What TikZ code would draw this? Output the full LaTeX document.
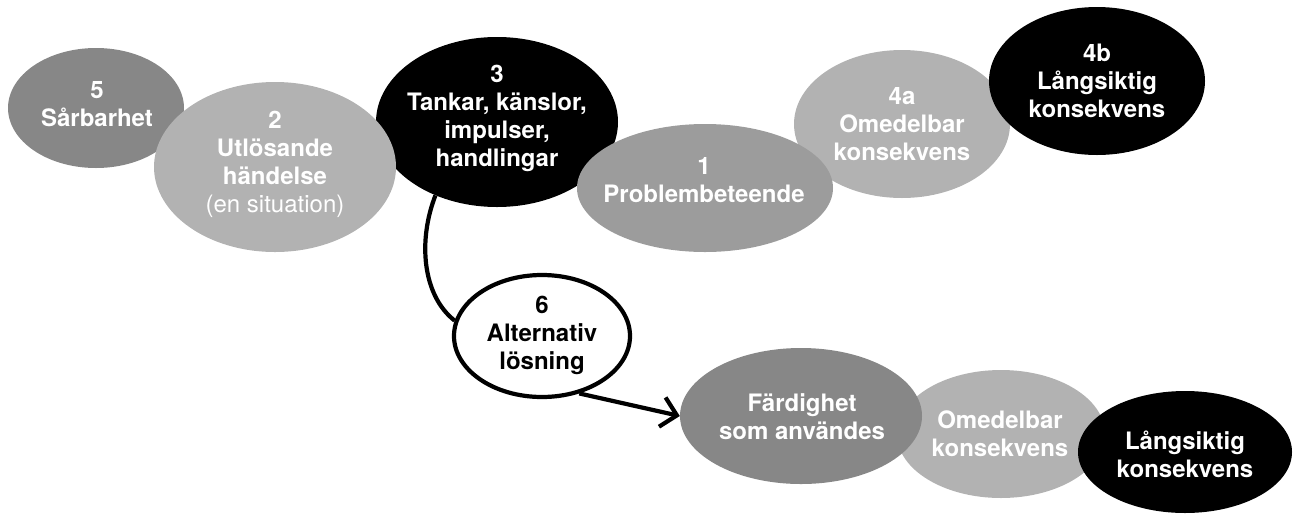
\documentclass[tikz,border=0pt]{standalone}
\usepackage{fontspec}
\setmainfont{TeX Gyre Heros}
\usetikzlibrary{shapes.geometric,arrows.meta}
\definecolor{gdark}{gray}{0.53}
\definecolor{gmid}{gray}{0.61}
\definecolor{glight}{gray}{0.70}
\begin{document}
\begin{tikzpicture}[x=1pt,y=-1pt,
  blob/.style n args={3}{ellipse, inner sep=0pt, fill=#1, minimum width=#2, minimum height=#3},
  txt/.style={align=center, inner sep=0pt, text=white, font=\bfseries\fontsize{24pt}{28pt}\selectfont},
  conn/.style={line width=4.2pt, black},
  arr/.style={conn, -{Straight Barb[length=15pt,width=30pt]}}]
\useasboundingbox (0,0) rectangle (1293,515);
% top row
\node[blob={gdark}{176pt}{120pt}] (e5) at (96,108) {};
\node[blob={black}{242pt}{170pt}] (e3) at (497,122) {};
\node[blob={glight}{242pt}{170pt}] (e2) at (275,167) {};
\node[blob={glight}{216pt}{148pt}] (e4a) at (902,124) {};
\node[blob={black}{216pt}{148pt}] (e4b) at (1097,81) {};
\node[blob={gmid}{256pt}{128pt}] (e1) at (705,188) {};
% alternative
\node[blob={white}{176pt}{122pt}, draw=black, line width=4.2pt] (e6) at (542,336) {};
\draw[conn] (e3.230) .. controls (418,240) and (422,295) .. (e6.170);
% bottom row
\node[blob={glight}{208pt}{128pt}] (eO) at (1001,434) {};
\node[blob={gdark}{242pt}{136pt}] (eF) at (801,416) {};
\node[blob={black}{214pt}{122pt}] (eL) at (1185,452) {};
\draw[arr] (e6.303) -- (eF.west);
% texts
\node[txt] (t5) at (97,104.5) {5\\Sårbarhet};
\node[txt] (t2) at (275,164) {2\\Utlösande\\händelse\\{\mdseries(en situation)}};
\node[txt] (t3) at (497,118.5) {3\\Tankar, känslor,\\impulser,\\handlingar};
\node[txt] (t1) at (704,180.5) {1\\Problembeteende};
\node[txt] (t4a) at (902,123.7) {4a\\Omedelbar\\konsekvens};
\node[txt] (t4b) at (1097,81) {4b\\Långsiktig\\konsekvens};
\node[txt, text=black] (t6) at (542,335) {6\\Alternativ\\lösning};
\node[txt] (tF) at (802,417) {Färdighet\\som användes};
\node[txt] (tO) at (1000,433.5) {Omedelbar\\konsekvens};
\node[txt] (tL) at (1185,454.5) {Långsiktig\\konsekvens};
\end{tikzpicture}
\end{document}
